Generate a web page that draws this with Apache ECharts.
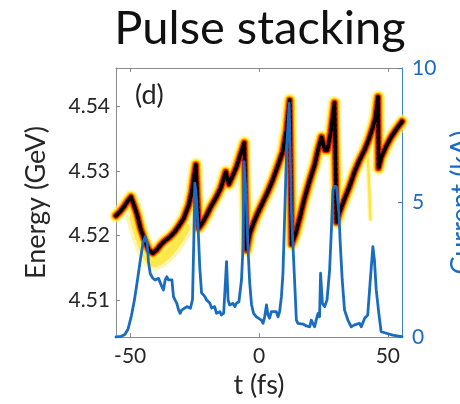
<!DOCTYPE html>
<html>
<head>
<meta charset="utf-8">
<script src="https://cdn.jsdelivr.net/npm/echarts@6/dist/echarts.min.js"></script>
<style>
  html, body { margin: 0; padding: 0; background: #fff; }
  #chart { width: 460px; height: 404px; }
</style>
</head>
<body>
<div id="chart"></div>
<script>
// Beam energy ridge (centre of the longitudinal phase space) vs time
const ridgeT = [-55.5, -54.0, -52.4, -50.9, -49.7, -48.6, -47.4, -45.9, -44.3, -42.8,
  -41.2, -39.7, -38.1, -36.6, -34.6, -32.7, -31.1, -29.2, -27.2, -26.1,
  -25.3, -24.5, -23.4, -21.8, -20.3, -18.7, -16.8, -14.8, -12.9, -11.7,
  -10.2, -8.6, -7.1, -5.7, -4.8, -3.6, -2.1, -0.5, 1.4, 3.4,
  5.3, 7.2, 9.2, 10.7, 11.9, 12.7, 14.2, 15.8, 17.7, 19.7,
  21.6, 23.1, 24.3, 25.5, 26.6, 27.8, 29.3, 30.1, 31.3, 33.2,
  35.2, 37.1, 39.0, 41.0, 42.5, 44.1, 45.2, 46.2, 46.4, 47.5,
  49.4, 51.3, 53.3, 55.5];
const ridgeE = [4.5231, 4.5237, 4.5245, 4.5254, 4.5260, 4.5248, 4.5234, 4.5210, 4.5192, 4.5178,
  4.5173, 4.5178, 4.5186, 4.5192, 4.5198, 4.5206, 4.5215, 4.5227, 4.5248, 4.5268,
  4.5290, 4.5310, 4.5212, 4.5221, 4.5232, 4.5245, 4.5258, 4.5274, 4.5299, 4.5280,
  4.5293, 4.5308, 4.5327, 4.5344, 4.5178, 4.5203, 4.5220, 4.5235, 4.5251, 4.5268,
  4.5286, 4.5307, 4.5330, 4.5364, 4.5410, 4.5187, 4.5203, 4.5227, 4.5258, 4.5286,
  4.5310, 4.5336, 4.5353, 4.5333, 4.5333, 4.5359, 4.5406, 4.5221, 4.5237, 4.5257,
  4.5277, 4.5299, 4.5317, 4.5333, 4.5348, 4.5367, 4.5383, 4.5415, 4.5305, 4.5322,
  4.5339, 4.5353, 4.5365, 4.5377];

// Low-energy tail of the distribution behind the first pulse
const tailT = [-48.5, -46.5, -44.5, -42.5, -40.5, -38.5, -36.5, -34.5, -32.5, -30.5, -28.5];
const tailE = [4.5228, 4.5200, 4.5178, 4.5163, 4.5158, 4.5162, 4.5168, 4.5176, 4.5186, 4.5198, 4.5212];

// Faint side branch near the last spike
const branchT = [42.0, 42.5, 42.9, 43.2];
const branchE = [4.5338, 4.5300, 4.5260, 4.5226];

// Current profile
const currentT = [-55.5, -53.5, -52.0, -50.8, -49.5, -48.3, -47.2, -46.0, -45.0, -44.2,
  -43.4, -42.9, -42.2, -41.3, -40.3, -39.0, -38.4, -37.7, -37.1, -36.4,
  -35.8, -35.1, -34.5, -33.8, -33.2, -32.6, -31.9, -31.2, -30.6, -30.0,
  -29.3, -28.0, -26.6, -25.8, -25.3, -24.9, -24.3, -23.6, -23.0, -22.3,
  -21.0, -20.4, -19.1, -18.4, -17.2, -16.5, -15.2, -14.6, -13.7, -12.6,
  -12.0, -11.4, -10.1, -9.4, -8.8, -7.8, -6.8, -6.2, -5.8, -4.9,
  -4.3, -3.6, -2.9, -2.1, -1.0, -0.4, 0.9, 1.6, 2.2, 2.9,
  3.5, 4.1, 4.8, 5.4, 6.7, 7.4, 8.0, 8.7, 9.3, 10.0,
  10.7, 11.7, 12.1, 12.6, 13.2, 13.8, 14.5, 15.1, 17.1, 18.4,
  19.7, 20.3, 20.9, 21.6, 22.2, 22.9, 23.5, 23.9, 24.6, 25.5,
  26.4, 27.4, 28.1, 28.7, 29.3, 30.1, 31.0, 31.6, 32.3, 33.2,
  34.5, 35.8, 37.1, 37.8, 39.0, 39.7, 41.0, 42.2, 43.2, 44.2,
  44.8, 45.5, 46.5, 47.4, 49.4, 51.9, 55.5];
const currentKA = [0.00, 0.02, 0.10, 0.30, 0.80, 1.40, 2.10, 2.90, 3.50, 3.73,
  3.50, 2.80, 2.35, 2.20, 2.12, 2.18, 2.24, 1.87, 1.75, 2.12,
  2.24, 2.12, 2.18, 2.12, 1.50, 1.38, 1.25, 1.00, 0.88, 1.00,
  1.07, 1.13, 1.07, 1.40, 3.60, 5.72, 5.20, 4.00, 2.60, 1.64,
  1.50, 1.38, 1.26, 1.08, 1.13, 0.88, 0.94, 0.82, 0.89, 2.80,
  1.38, 1.19, 1.25, 1.13, 1.25, 1.31, 2.12, 3.36, 6.52, 5.09,
  3.36, 2.00, 1.20, 0.88, 0.75, 0.70, 0.63, 0.51, 0.75, 1.19,
  0.82, 0.70, 0.94, 1.00, 0.94, 0.75, 0.94, 1.50, 2.38, 4.61,
  6.95, 8.68, 6.95, 4.60, 3.36, 2.12, 0.63, 0.51, 0.48, 0.41,
  0.38, 0.63, 0.51, 0.38, 0.63, 0.88, 0.75, 2.37, 1.25, 1.13,
  1.38, 2.49, 3.98, 5.46, 5.61, 5.58, 4.60, 3.36, 2.12, 1.00,
  0.63, 0.38, 0.45, 0.38, 0.51, 0.38, 0.70, 0.82, 2.12, 3.36,
  2.86, 1.75, 0.88, 0.20, 0.14, 0.07, 0.01];

const timeTicks = [-50, 0, 50];
const energyTicks = [4.51, 4.52, 4.53, 4.54];
const currentTicks = [0, 5, 10];

const FONT = 'Lato';
const GREY = '#8a8a8a';
const BLUE = '#1a6cc0';
const BLUE_AXIS = '#3a82c8';

const pairs = (xs, ys) => xs.map((x, i) => [x, ys[i]]);
const ridgeData = pairs(ridgeT, ridgeE);
const tailData = pairs(tailT, tailE);
const branchData = pairs(branchT, branchE);
const currentData = pairs(currentT, currentKA);

function stroke(data, width, color, z, type) {
  return {
    type: 'line',
    xAxisIndex: 0,
    yAxisIndex: 0,
    data: data,
    symbol: 'none',
    silent: true,
    z: z,
    lineStyle: { width: width, color: color, type: type || 'solid', join: 'round', cap: 'round' }
  };
}

// Density band drawn as stacked strokes: pale yellow outside, dotted black core
const bandSeries = [
  stroke(tailData, 16, 'rgba(255,238,120,0.55)', 1),
  stroke(tailData, 9, 'rgba(255,226,40,0.75)', 1),
  stroke(branchData, 5, 'rgba(255,240,120,0.6)', 1),
  stroke(branchData, 2.5, 'rgba(255,225,40,0.8)', 1),
  stroke(ridgeData, 14, 'rgba(255,240,110,0.55)', 2),
  stroke(ridgeData, 10.5, '#ffe21a', 2),
  stroke(ridgeData, 8, '#ff8a00', 2),
  stroke(ridgeData, 6, '#dc1c0b', 2),
  stroke(ridgeData, 3.8, '#000000', 2, [3, 2.5])
];

const chart = echarts.init(document.getElementById('chart'), null, { renderer: 'canvas' });

chart.setOption({
  animation: false,
  backgroundColor: '#ffffff',
  textStyle: { fontFamily: FONT },
  title: {
    text: 'Pulse stacking',
    left: 255,
    textAlign: 'center',
    top: 0,
    textStyle: { fontFamily: FONT, fontSize: 47, fontWeight: 'normal', color: '#111' }
  },
  grid: { left: 116, right: 58, top: 68, bottom: 67, containLabel: false, outerBoundsMode: 'none' },
  graphic: [{
    type: 'text',
    left: 135,
    top: 82,
    z: 10,
    style: { text: '(d)', fontFamily: FONT, fontSize: 27, fill: '#222' }
  }],
  xAxis: [{
    type: 'value',
    position: 'bottom',
    min: -55.5,
    max: 55.5,
    name: 't (fs)',
    nameLocation: 'middle',
    nameGap: 35,
    nameTextStyle: { fontFamily: FONT, fontSize: 27, color: '#262626' },
    axisLine: { show: true, onZero: false, lineStyle: { color: GREY, width: 1 } },
    axisTick: { show: true, inside: true, length: 4, customValues: timeTicks, lineStyle: { color: GREY } },
    axisLabel: { customValues: timeTicks, fontFamily: FONT, fontSize: 21, color: '#262626', margin: 9 },
    splitLine: { show: false }
  }, {
    type: 'value',
    position: 'top',
    min: -55.5,
    max: 55.5,
    axisLine: { show: true, onZero: false, lineStyle: { color: GREY, width: 1 } },
    axisTick: { show: true, inside: true, length: 4, customValues: timeTicks, lineStyle: { color: GREY } },
    axisLabel: { show: false },
    splitLine: { show: false }
  }],
  yAxis: [{
    type: 'value',
    position: 'left',
    min: 4.5043,
    max: 4.546,
    name: 'Energy (GeV)',
    nameLocation: 'middle',
    nameGap: 66,
    nameTextStyle: { fontFamily: FONT, fontSize: 27, color: '#262626' },
    axisLine: { show: true, onZero: false, lineStyle: { color: GREY, width: 1 } },
    axisTick: { show: true, inside: true, length: 4, customValues: energyTicks, lineStyle: { color: GREY } },
    axisLabel: {
      customValues: energyTicks,
      fontFamily: FONT, fontSize: 21, color: '#262626', margin: 6,
      formatter: v => Number(v).toFixed(2)
    },
    splitLine: { show: false }
  }, {
    type: 'value',
    position: 'right',
    min: 0,
    max: 10,
    interval: 5,
    name: 'Current (kA)',
    nameLocation: 'middle',
    nameRotate: 90,
    nameGap: 46,
    nameTextStyle: { fontFamily: FONT, fontSize: 27, color: BLUE },
    axisLine: { show: true, onZero: false, lineStyle: { color: BLUE_AXIS, width: 1 } },
    axisTick: { show: true, inside: true, length: 4, lineStyle: { color: BLUE_AXIS } },
    axisLabel: { fontFamily: FONT, fontSize: 21, color: BLUE, margin: 10 },
    splitLine: { show: false }
  }],
  series: bandSeries.concat([{
    type: 'line',
    name: 'Current',
    xAxisIndex: 0,
    yAxisIndex: 1,
    data: currentData,
    symbol: 'none',
    silent: true,
    z: 5,
    lineStyle: { width: 2.8, color: BLUE, join: 'round', cap: 'round' }
  }])
});
</script>
</body>
</html>
